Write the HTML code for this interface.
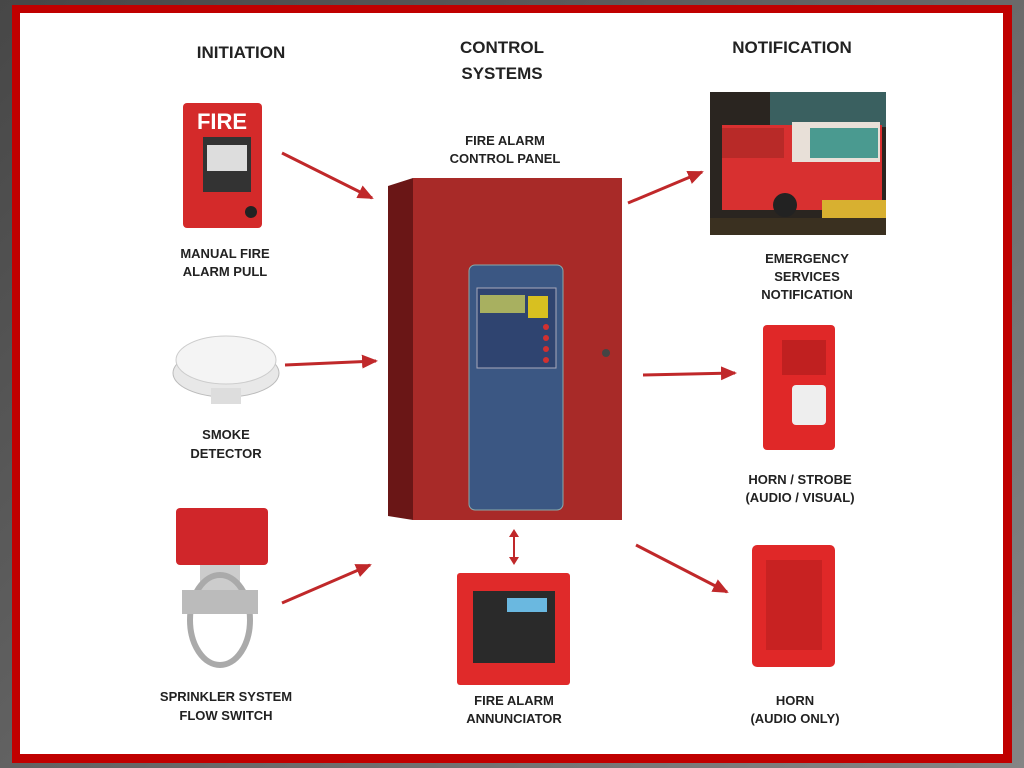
<!DOCTYPE html>
<html><head><meta charset="utf-8"><style>
html,body{margin:0;padding:0;width:1024px;height:768px;overflow:hidden;background:linear-gradient(135deg,#474747,#858585);}
svg{position:absolute;left:0;top:0}
text{font-family:"Liberation Sans",sans-serif;font-weight:bold;fill:#222;text-anchor:middle}
.h{font-size:17px}.l{font-size:13px}
</style></head><body>
<svg width="1024" height="768" viewBox="0 0 1024 768">
<defs>
<marker id="b" markerWidth="16" markerHeight="14" refX="14" refY="7" orient="auto" markerUnits="userSpaceOnUse"><path d="M0,0 L16,7 L0,14 Z" fill="#c0282a"/></marker>
</defs>
<rect x="12" y="5" width="1000" height="758" fill="#c00000"/>
<rect x="20" y="13" width="983" height="741" fill="#fff"/>

<text class="h" x="241" y="58">INITIATION</text>
<text class="h" x="502" y="53">CONTROL</text>
<text class="h" x="502" y="79">SYSTEMS</text>
<text class="h" x="792" y="53">NOTIFICATION</text>

<!-- fire pull -->
<rect x="183" y="103" width="79" height="125" rx="4" fill="#d42a2a"/>
<text x="222" y="129" style="font-size:22px;fill:#fff">FIRE</text>
<rect x="203" y="137" width="48" height="55" fill="#333"/>
<rect x="207" y="145" width="40" height="26" fill="#ddd"/>
<circle cx="251" cy="212" r="6" fill="#222"/>
<text class="l" x="225" y="258">MANUAL FIRE</text>
<text class="l" x="225" y="276">ALARM PULL</text>

<!-- smoke -->
<ellipse cx="226" cy="373" rx="53" ry="24" fill="#e8e8e8" stroke="#bbb"/>
<ellipse cx="226" cy="360" rx="50" ry="24" fill="#f4f4f4" stroke="#ccc"/>
<rect x="211" y="388" width="30" height="16" fill="#ddd"/>
<text class="l" x="226" y="439">SMOKE</text>
<text class="l" x="226" y="458">DETECTOR</text>

<!-- sprinkler -->
<rect x="176" y="508" width="92" height="57" rx="4" fill="#d0262a"/>
<rect x="200" y="565" width="40" height="30" fill="#ccc"/>
<ellipse cx="220" cy="620" rx="30" ry="45" fill="none" stroke="#aaa" stroke-width="6"/>
<rect x="182" y="590" width="76" height="24" fill="#bbb"/>
<text class="l" x="226" y="701">SPRINKLER SYSTEM</text>
<text class="l" x="226" y="720">FLOW SWITCH</text>

<!-- panel -->
<text class="l" x="505" y="145">FIRE ALARM</text>
<text class="l" x="505" y="163">CONTROL PANEL</text>
<path d="M388,186 L413,178 L413,520 L388,516 Z" fill="#6a1616"/>
<rect x="413" y="178" width="209" height="342" fill="#a82a28"/>
<rect x="469" y="265" width="94" height="245" rx="6" fill="#3b5783" stroke="#8aa" stroke-width="1"/>
<rect x="477" y="288" width="79" height="80" fill="#2f4470" stroke="#aab"/>
<rect x="480" y="295" width="45" height="18" fill="#a8b060"/>
<rect x="528" y="296" width="20" height="22" fill="#d8c020"/>
<g fill="#d23030"><circle cx="546" cy="327" r="3"/><circle cx="546" cy="338" r="3"/><circle cx="546" cy="349" r="3"/><circle cx="546" cy="360" r="3"/></g>
<circle cx="606" cy="353" r="4" fill="#444"/>

<!-- annunciator -->
<text class="l" x="514" y="705">FIRE ALARM</text>
<text class="l" x="514" y="723">ANNUNCIATOR</text>
<rect x="457" y="573" width="113" height="112" rx="3" fill="#e02a2a"/>
<rect x="473" y="591" width="82" height="72" fill="#2a2a2a"/>
<rect x="507" y="598" width="40" height="14" fill="#6ab8e0"/>

<!-- truck -->
<rect x="710" y="92" width="176" height="143" fill="#2a2520"/>
<rect x="770" y="92" width="116" height="35" fill="#3a6060"/>
<rect x="722" y="125" width="160" height="85" fill="#d83030"/>
<rect x="792" y="122" width="88" height="40" fill="#e8e0d8"/>
<rect x="810" y="128" width="68" height="30" fill="#4a9a90"/>
<rect x="722" y="128" width="62" height="30" fill="#b82a28"/>
<circle cx="785" cy="205" r="12" fill="#222"/>
<rect x="822" y="200" width="64" height="18" fill="#d8b030"/>
<rect x="710" y="218" width="176" height="17" fill="#3a3020"/>
<text class="l" x="807" y="263">EMERGENCY</text>
<text class="l" x="807" y="281">SERVICES</text>
<text class="l" x="807" y="299">NOTIFICATION</text>

<!-- horn strobe -->
<rect x="763" y="325" width="72" height="125" rx="4" fill="#e02828"/>
<rect x="782" y="340" width="44" height="35" fill="#c02020"/>
<rect x="792" y="385" width="34" height="40" rx="4" fill="#eee"/>
<text class="l" x="800" y="484">HORN / STROBE</text>
<text class="l" x="800" y="502">(AUDIO / VISUAL)</text>

<!-- horn -->
<rect x="752" y="545" width="83" height="122" rx="5" fill="#e02828"/>
<rect x="766" y="560" width="56" height="90" fill="#c82222"/>
<text class="l" x="795" y="705">HORN</text>
<text class="l" x="795" y="723">(AUDIO ONLY)</text>

<!-- arrows -->
<g stroke="#c0282a" stroke-width="3" fill="none">
<line x1="282" y1="153" x2="372" y2="198" marker-end="url(#b)"/>
<line x1="285" y1="365" x2="376" y2="361" marker-end="url(#b)"/>
<line x1="282" y1="603" x2="370" y2="565" marker-end="url(#b)"/>
<line x1="628" y1="203" x2="702" y2="172" marker-end="url(#b)"/>
<line x1="643" y1="375" x2="735" y2="373" marker-end="url(#b)"/>
<line x1="636" y1="545" x2="727" y2="592" marker-end="url(#b)"/>
<line x1="514" y1="536" x2="514" y2="558" stroke-width="2"/>
</g>
<path d="M509,537 L514,529 L519,537 Z M509,557 L514,565 L519,557 Z" fill="#c0282a"/>
</svg>
</body></html>
